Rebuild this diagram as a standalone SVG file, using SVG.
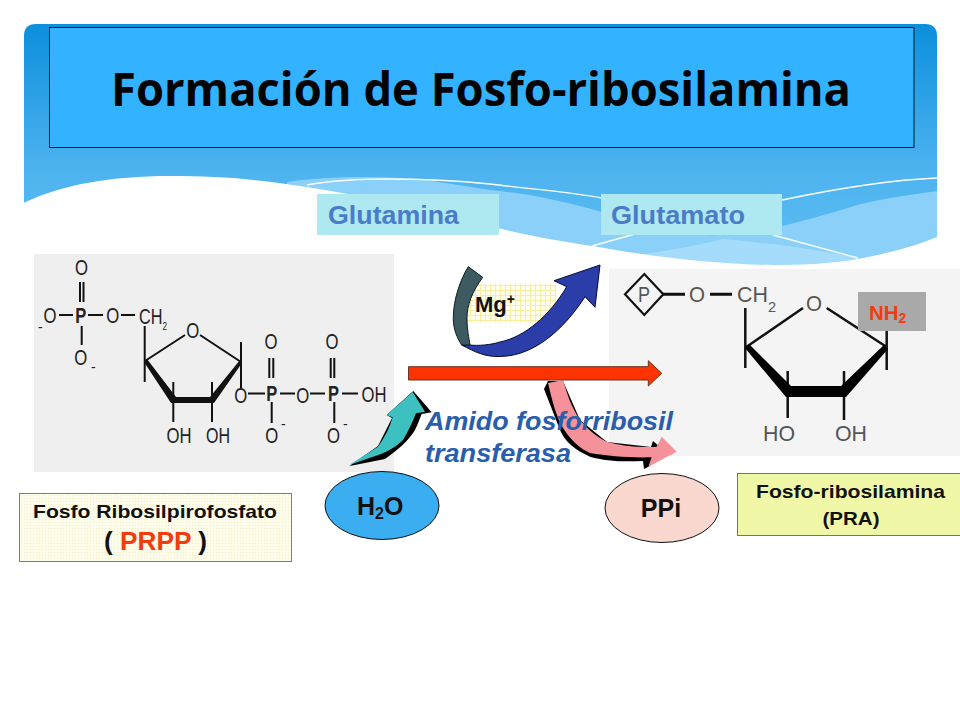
<svg xmlns="http://www.w3.org/2000/svg" width="960" height="720" viewBox="0 0 960 720">
<defs>
<linearGradient id="bg" x1="0" y1="0" x2="0" y2="1"><stop offset="0" stop-color="#0c8fdc"/><stop offset="0.55" stop-color="#4db3ef"/><stop offset="1" stop-color="#62c0f3"/></linearGradient>
<pattern id="grid" width="5" height="5" patternUnits="userSpaceOnUse"><rect width="5" height="5" fill="#fffef0"/><path d="M0 .5H5M.5 0V5" stroke="#f6eda0" stroke-width="1"/></pattern>
<pattern id="dots" width="3" height="3" patternUnits="userSpaceOnUse"><rect width="3" height="3" fill="#fefcea"/><rect width="1" height="1" fill="#f5edc0"/></pattern>
<style>
text{font-family:"Liberation Sans",Arial,sans-serif}
.b{font-weight:700}
.m{font-size:22px;fill:#222}
.g{font-size:22px;fill:#555}
.l{stroke:#111;stroke-width:2;fill:none}
.t{stroke:#111;stroke-width:3;fill:none}
.lab{font-size:26px;font-weight:700;fill:#4a7cc8}
.blue{font-size:25px;font-weight:700;font-style:italic;fill:#2a5dab}
.k{fill:#111;font-weight:700}
.red{fill:#f03c10}
</style>
</defs>
<rect width="960" height="720" fill="#fff"/>
<g id="background">
<path d="M24 290V36Q24 24 36 24H925Q937 24 937 36V290Z" fill="url(#bg)"/>
<path d="M287 182C320 177 360 176 400 178C430 180 465 186 490 190C510 192 525 194 540 197C560 201 582 206 602 212C640 225 675 232 703 235C730 236 755 232 782 226C810 219 835 212 857 205C885 198 915 194 937 191V290H287Z" fill="#8ad0f8"/>
<path d="M640 290V255C670 250 700 245 723 239C770 243 820 250 860 258V290Z" fill="#a6dcfb"/>
<path d="M24 290V202.700C45 193 65 187 87 183C115 178 140 176 170 176C200 176 228 177 253 180C290 184 325 190 353 195C410 205 460 220 498 228C530 236 565 242 593 246C625 252 660 257 690 260C720 263 750 265 773 265C800 265 830 264 858 259C890 253 915 246 937 237V290Z" fill="#fff"/>
<path d="M307 185C335 180 360 179 387 179C425 179 460 181 490 184C530 189 570 192 602 198M782 200C830 190 890 180 937 178M592 246L635 234M773 235L858 258" fill="none" stroke="#fff" stroke-width="1.300"/>
</g>
<g id="title"><rect x="49.500" y="27.500" width="864.500" height="120" fill="#33b2ff" stroke="#0d1a25" stroke-width="1"/>
<text x="481" y="105.500" text-anchor="middle" font-size="46" font-weight="700" fill="#030303" style="font-family:'Open Sans','Liberation Sans',sans-serif" textLength="740" lengthAdjust="spacingAndGlyphs">Formación de Fosfo-ribosilamina</text></g>
<g id="glutamina"><rect x="317" y="194" width="182" height="41" fill="#aee8f0"/><text class="lab" x="328" y="224" textLength="131" lengthAdjust="spacingAndGlyphs">Glutamina</text></g>
<g id="glutamato"><rect x="601" y="194" width="181" height="41" fill="#aee8f0"/><text class="lab" x="611" y="224" textLength="134" lengthAdjust="spacingAndGlyphs">Glutamato</text></g>
<g id="prpp-molecule">
<rect x="34" y="254" width="360" height="218" fill="#efefef"/>
<path class="l" d="M80 282V302M83.500 282V302M59 315H73M88 315H103M121 315H135M81.700 326V345M144.700 326V382M145 361L185 335M200 335L241 362M241 342V382M173.300 382V422M212 382V422M241 382V388M248 393.500H265M269.300 358V378M273.300 358V378M280 393.500H295M310 393.500H325M330.700 358V378M334.300 358V378M342 393.500H358M271.700 402V423M334.300 402V423"/>
<path d="M144 362L147 359L176 397H210L240 360L242 363L214 403H171Z" fill="#111"/>
<g class="m" text-anchor="middle">
<text x="81.500" y="275" textLength="13" lengthAdjust="spacingAndGlyphs">O</text>
<text x="50" y="323" textLength="13" lengthAdjust="spacingAndGlyphs">O</text>
<text x="80.700" y="323" class="b" textLength="11" lengthAdjust="spacingAndGlyphs">P</text>
<text x="112.700" y="323" textLength="13" lengthAdjust="spacingAndGlyphs">O</text>
<text x="80.700" y="365" textLength="13" lengthAdjust="spacingAndGlyphs">O</text>
<text x="192.700" y="337.500" textLength="13" lengthAdjust="spacingAndGlyphs">O</text>
<text x="179" y="443" textLength="25" lengthAdjust="spacingAndGlyphs">OH</text>
<text x="218" y="443" textLength="24" lengthAdjust="spacingAndGlyphs">OH</text>
<text x="240.700" y="402.500" textLength="13" lengthAdjust="spacingAndGlyphs">O</text>
<text x="271.700" y="401" class="b" textLength="11" lengthAdjust="spacingAndGlyphs">P</text>
<text x="302.700" y="402.500" textLength="13" lengthAdjust="spacingAndGlyphs">O</text>
<text x="333.500" y="401" class="b" textLength="11" lengthAdjust="spacingAndGlyphs">P</text>
<text x="271" y="349" textLength="13" lengthAdjust="spacingAndGlyphs">O</text>
<text x="332" y="349" textLength="13" lengthAdjust="spacingAndGlyphs">O</text>
<text x="374" y="401.500" textLength="25" lengthAdjust="spacingAndGlyphs">OH</text>
<text x="271.700" y="443" textLength="13" lengthAdjust="spacingAndGlyphs">O</text>
<text x="333.500" y="443" textLength="13" lengthAdjust="spacingAndGlyphs">O</text>
</g>
<text class="m" x="139" y="323.500" textLength="28" lengthAdjust="spacingAndGlyphs">CH<tspan font-size="11" dy="6">2</tspan></text>
<g font-size="14" fill="#222"><text x="38" y="332">-</text><text x="91" y="372">-</text><text x="281" y="429">-</text><text x="343" y="429">-</text></g>
</g>
<g id="pra-molecule">
<rect x="609" y="269" width="351" height="187" fill="#f4f4f4"/>
<path d="M625 294.300L644.300 274L663.300 294.300L644.300 315Z" fill="none" stroke="#111" stroke-width="2.200"/>
<text class="g" x="644" y="301.500" text-anchor="middle" textLength="12" lengthAdjust="spacingAndGlyphs">P</text>
<path class="t" d="M663 294.300H685M710 294.300H732"/>
<path class="t" style="stroke-width:2.500" d="M745.300 308V368M746.700 346.700L803 308M826.700 308L886.700 347M886.700 330V370M787.700 371V418M844 371V420"/>
<path d="M745 348L749 344L791 386H841L884 345L888 349L846 397H786Z" fill="#000"/>
<g class="g" text-anchor="middle">
<text x="697" y="302" textLength="16" lengthAdjust="spacingAndGlyphs">O</text>
<text x="814" y="310.500" textLength="16" lengthAdjust="spacingAndGlyphs">O</text>
<text x="779" y="441" textLength="32" lengthAdjust="spacingAndGlyphs">HO</text>
<text x="851" y="441" textLength="32" lengthAdjust="spacingAndGlyphs">OH</text>
</g>
<text class="g" x="737" y="302" textLength="39" lengthAdjust="spacingAndGlyphs">CH<tspan font-size="15" dy="10">2</tspan></text>
</g>
<g id="nh2"><rect x="858" y="292" width="68" height="39" fill="#a9a9a9"/><text x="869" y="320" class="b red" font-size="20.500">NH<tspan font-size="14" dy="3">2</tspan></text></g>
<g id="connectors">
<path d="M544 389L548 381L563 381L580 420L607 442L651 447L653 441L660 447L650 466L644 469L643 461C622 462 605 461 590 456.700C575 450 565 442 560 430Z" fill="#000"/>
<path d="M548 383C552 400 556 416 563 428C572 442 581 449 590 453C608 456 630 458 651.700 457.300L648.300 466.700L676.700 451.700L661.700 436.700L656.700 446.700C640 448 622 446 606.700 441.700C595 436 587 428 580 420C572 408 567 395 563.300 380Z" fill="#f59198"/>
<path d="M408.500 366.700H648.300V360.700L661.700 373.300L648.300 386V380H408.500Z" fill="#ff3300" stroke="#6e3020" stroke-width="1"/>
<rect x="467" y="283.500" width="89" height="39" fill="url(#grid)"/>
<path d="M461.700 345C475 352 485 357 500 356.500C540 356 570 320 585 296.700L595 307.300L600 265L554 280.700L566.700 286.700C550 315 525 337 500 342C490 345 478 346 470 345Z" fill="#2a3da8" stroke="#0a0a30" stroke-width="1"/>
<path d="M468.300 266.700L482.700 277.300C472 292 467 305 467 318C467 330 469 338 470 345H461.700C455 335 453 325 453.300 316.700C453.500 300 460 280 468.300 266.700Z" fill="#3c5a60" stroke="#101c20" stroke-width="1"/>
<path d="M349.300 466C362 464 373 461 385 459C398 450 409 440 415 430C418 424 420 418 421.700 414L431.700 412.300L413.300 391L386.700 415L392 418L378 446Z" fill="#000"/>
<path d="M349.300 465C360 458 370 452 378 446.700C385 437 390 427 392.700 417.300L386.700 415L412.700 392L425 411.700L416 413.300C412 423 408 432 403 440C395 448 385 453 373 456.700Z" fill="#3cc0c0"/>
</g>
<g id="mg"><text x="475" y="312" class="k" font-size="22">Mg<tspan font-size="14" dy="-8">+</tspan></text></g>
<g id="enzyme"><text class="blue" x="425" y="430" textLength="248" lengthAdjust="spacingAndGlyphs">Amido fosforribosil</text><text class="blue" x="425" y="461.500" textLength="146" lengthAdjust="spacingAndGlyphs">transferasa</text></g>
<g id="h2o"><ellipse cx="382" cy="505.500" rx="57" ry="34" fill="#3aaef0" stroke="#111" stroke-width="1"/><text x="357" y="515" class="k" font-size="25">H<tspan font-size="16" dy="4">2</tspan><tspan dy="-4">O</tspan></text></g>
<g id="ppi"><ellipse cx="662" cy="508" rx="57" ry="34.500" fill="#fbd8cf" stroke="#111" stroke-width="1"/><text x="661" y="516.500" text-anchor="middle" class="k" font-size="25">PPi</text></g>
<g id="prpp"><rect x="19.500" y="493.500" width="272" height="68" fill="url(#dots)" stroke="#4f86bb" stroke-width="1"/><text x="155" y="518" text-anchor="middle" class="k" font-size="19" textLength="244" lengthAdjust="spacingAndGlyphs">Fosfo Ribosilpirofosfato</text><text x="155.500" y="550" text-anchor="middle" class="k" font-size="25" textLength="103" lengthAdjust="spacingAndGlyphs">( <tspan class="red">PRPP</tspan> )</text></g>
<g id="pra"><rect x="737.500" y="473.500" width="223" height="62" fill="#f0f8a8" stroke="#3a8a9a" stroke-width="1"/><text x="850.500" y="498" text-anchor="middle" class="k" font-size="19" textLength="189" lengthAdjust="spacingAndGlyphs">Fosfo-ribosilamina</text><text x="851" y="525" text-anchor="middle" class="k" font-size="19" textLength="57" lengthAdjust="spacingAndGlyphs">(PRA)</text></g>
</svg>
